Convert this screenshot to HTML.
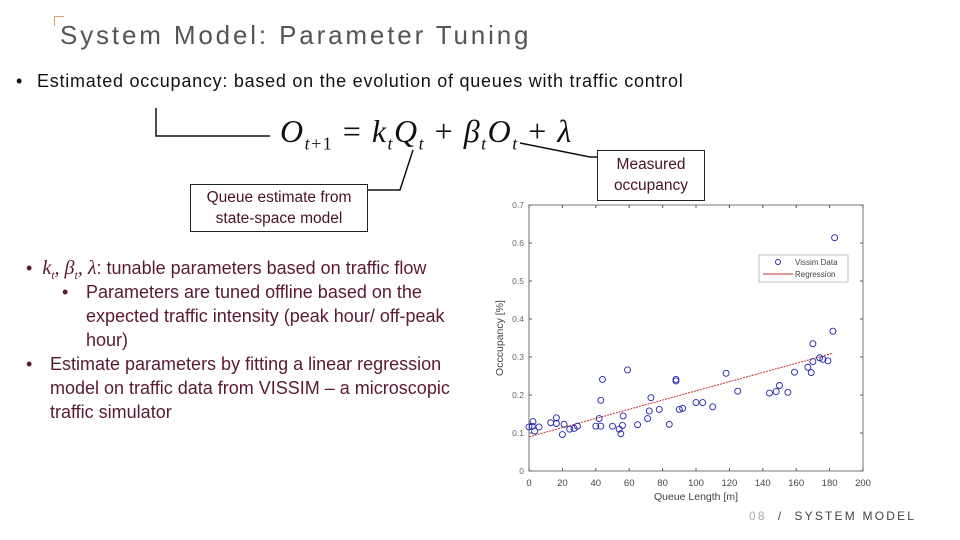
<!DOCTYPE html>
<html><head><meta charset="utf-8"><style>
body{margin:0;width:960px;height:540px;background:#fff;position:relative;overflow:hidden;font-family:"Liberation Sans",sans-serif}
.abs{position:absolute}
.bl{color:#5a1a32;font-size:18px;line-height:24px;white-space:nowrap}
</style></head><body>
<div class="abs" style="left:54px;top:16px;width:9px;height:9px;border-left:1px solid #e0a080;border-top:1px solid #e0a080"></div>
<div class="abs" style="left:60px;top:20px;font-size:26px;letter-spacing:2.85px;color:#555">System Model: Parameter Tuning</div>
<div class="abs" style="left:16px;top:71px;font-size:18px;color:#111">•</div>
<div class="abs" style="left:37px;top:71px;font-size:18px;letter-spacing:0.75px;color:#111;white-space:nowrap">Estimated occupancy: based on the evolution of queues with traffic control</div>
<svg class="abs" style="left:0;top:0" width="960" height="540">
<polyline points="156,108 156,136 270,136" fill="none" stroke="#111" stroke-width="1.5"/>
<polyline points="413,150 400,190 368,190" fill="none" stroke="#111" stroke-width="1.5"/>
<polyline points="520,143 590,157 598,157" fill="none" stroke="#111" stroke-width="1.5"/>
</svg>
<div class="abs" style="left:280px;top:113px;font-family:'Liberation Serif',serif;font-size:32px;letter-spacing:1.5px;color:#111;white-space:nowrap"><i>O</i><sub style="font-size:18px"><i>t</i>+1</sub> = <i>k<sub style="font-size:18px">t</sub>Q<sub style="font-size:18px">t</sub></i> + <i>β<sub style="font-size:18px">t</sub>O<sub style="font-size:18px">t</sub></i> + <i>λ</i></div>
<div class="abs" style="left:190px;top:184px;width:178px;height:48px;border:1.5px solid #222;box-sizing:border-box;text-align:center;color:#4a1228;font-size:15.5px;line-height:21px;padding-top:2px">Queue estimate from<br>state-space model</div>
<div class="abs" style="left:597px;top:150px;width:108px;height:51px;border:1.5px solid #222;box-sizing:border-box;text-align:center;color:#4a1228;font-size:15.5px;line-height:21px;padding-top:3px">Measured<br>occupancy</div>
<div class="abs bl" style="left:26px;top:256px">•&nbsp;&nbsp;<i style="font-family:'Liberation Serif',serif;font-size:20px">k<sub style="font-size:12px">t</sub>, β<sub style="font-size:12px">t</sub>, λ</i>: tunable parameters based on traffic flow</div>
<div class="abs bl" style="left:62px;top:280px">•</div>
<div class="abs bl" style="left:86px;top:280px">Parameters are tuned offline based on the<br>expected traffic intensity (peak hour/ off-peak<br>hour)</div>
<div class="abs bl" style="left:26px;top:352px">•</div>
<div class="abs bl" style="left:50px;top:352px">Estimate parameters by fitting a linear regression<br>model on traffic data from VISSIM – a microscopic<br>traffic simulator</div>
<svg id="chart" class="abs" style="left:0;top:0" width="960" height="540"></svg>
<div class="abs" style="left:749px;top:509px;font-size:12px;letter-spacing:2.2px;color:#444"><span style="color:#aaa">08</span>&nbsp; / &nbsp;SYSTEM MODEL</div>
<script>
const qx=[0,2.4,2,3.4,6,13,16.4,16.4,21,20,24.4,27,29,40,42,43,43,44,50,54,55,56,56.4,59,65,71,72,73,78,84,88,88,90,92,100,104,110,118,125,144,148,150,155,159,167,169,170,170,174,176,179,182,183];
const oy=[0.116,0.13,0.118,0.105,0.116,0.127,0.14,0.125,0.123,0.096,0.11,0.112,0.118,0.118,0.138,0.118,0.186,0.241,0.118,0.11,0.098,0.12,0.145,0.266,0.122,0.138,0.158,0.193,0.162,0.123,0.241,0.237,0.162,0.165,0.18,0.18,0.169,0.257,0.21,0.205,0.209,0.225,0.207,0.26,0.273,0.259,0.335,0.288,0.298,0.294,0.29,0.368,0.614];
const regX=[0,182];
const regY=[0.09,0.31];
const xTicks=[0,20,40,60,80,100,120,140,160,180,200];
const yTicks=[0,0.1,0.2,0.3,0.4,0.5,0.6,0.7];
const L=529,R=863,T=205,B=471;
const sx=v=>L+(v/200)*(R-L);
const sy=v=>B-(v/0.7)*(B-T);
const svg=document.getElementById('chart');
const NS='http://www.w3.org/2000/svg';
function mk(t,a){const e=document.createElementNS(NS,t);for(const k in a)e.setAttribute(k,a[k]);svg.appendChild(e);return e;}
const box=mk('rect',{x:L,y:T,width:R-L,height:B-T,fill:'none',stroke:'#555','stroke-width':0.8});


xTicks.forEach(v=>{
  mk('line',{x1:sx(v),x2:sx(v),y1:B,y2:B-3,stroke:'#555'});
  mk('line',{x1:sx(v),x2:sx(v),y1:T,y2:T+3,stroke:'#555'});
  const t=mk('text',{x:sx(v),y:B+15,'text-anchor':'middle','font-size':9.5,fill:'#444'});t.textContent=v;
  
  
});
yTicks.forEach(v=>{
  mk('line',{x1:L,x2:L+3,y1:sy(v),y2:sy(v),stroke:'#555'});
  mk('line',{x1:R,x2:R-3,y1:sy(v),y2:sy(v),stroke:'#555'});
  const t=mk('text',{x:L-5,y:sy(v)+3,'text-anchor':'end','font-size':8.5,fill:'#666'});t.textContent=v;
  
  
});
const xl=mk('text',{x:(L+R)/2,y:B+29,'text-anchor':'middle','font-size':10.5,fill:'#444'});xl.textContent='Queue Length [m]';


const yl=mk('text',{x:503,y:(T+B)/2,'text-anchor':'middle','font-size':10.5,fill:'#444',transform:'rotate(-90 503 '+((T+B)/2)+')'});yl.textContent='Occcupancy [%]';


const rl=mk('line',{x1:sx(regX[0]),y1:sy(regY[0]),x2:sx(regX[1]),y2:sy(regY[1]),stroke:'#c03030','stroke-width':1,'stroke-dasharray':'2,1'});


qx.forEach((q,i)=>{
  const c=mk('circle',{cx:sx(q),cy:sy(oy[i]),r:3,fill:'none',stroke:'#2020b0','stroke-width':0.9});
  
  
});
const lg=mk('rect',{x:759,y:255,width:89,height:27,fill:'#fff',stroke:'#999','stroke-width':0.6});


mk('circle',{cx:778,cy:262,r:2.5,fill:'none',stroke:'#2020b0','stroke-width':0.9});
const l1=mk('text',{x:795,y:265,'font-size':8,fill:'#444'});l1.textContent='Vissim Data';


mk('line',{x1:763,x2:793,y1:274,y2:274,stroke:'#c03030','stroke-width':1});
const l2=mk('text',{x:795,y:277,'font-size':8,fill:'#444'});l2.textContent='Regression';


</script>
</body></html>
